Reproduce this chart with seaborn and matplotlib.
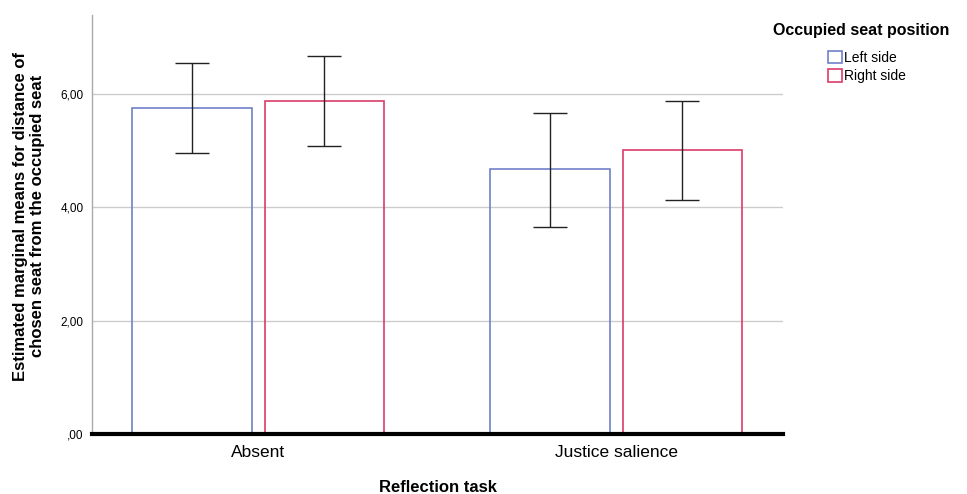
import matplotlib

matplotlib.use("Agg")
import matplotlib.pyplot as plt
import pandas as pd
import seaborn as sns

# Estimated marginal means with 95% CI
tasks = ["Absent", "Justice salience"]
sides = ["Left side", "Right side"]
means_left = [5.75, 4.67]
means_right = [5.87, 5.01]
lower_left = [4.96, 3.65]
upper_left = [6.54, 5.66]
lower_right = [5.08, 4.13]
upper_right = [6.67, 5.87]
yticks = [0, 2, 4, 6]
ytick_labels = [",00", "2,00", "4,00", "6,00"]

BLUE = "#6f82c8"
PINK = "#dc3c68"

df = pd.DataFrame({
    "task": tasks * 2,
    "side": [sides[0]] * 2 + [sides[1]] * 2,
    "mean": means_left + means_right,
    "lo": lower_left + lower_right,
    "hi": upper_left + upper_right,
})

sns.set_theme(style="white")
plt.rcParams["font.family"] = ["Liberation Sans", "DejaVu Sans"]
plt.rcParams.update({"text.color": "black", "xtick.color": "black",
                     "ytick.color": "black", "axes.labelcolor": "black"})

W, H = 967, 494
fig = plt.figure(figsize=(W / 100, H / 100), dpi=100)
ax = fig.add_axes([92 / W, 1 - 434 / H, (783 - 92) / W, (434 - 15) / H])

sns.barplot(data=df, x="task", y="mean", hue="side", order=tasks, hue_order=sides,
            palette=[BLUE, PINK], fill=False, width=0.74, gap=0.1,
            errorbar=None, linewidth=1.2, ax=ax, legend=False)

# error bars, positioned at the drawn bar centres
for bar, (_, row) in zip(ax.patches, df.iterrows()):
    xc = bar.get_x() + bar.get_width() / 2
    ax.errorbar([xc], [row["mean"]],
                yerr=[[row["mean"] - row["lo"]], [row["hi"] - row["mean"]]],
                fmt="none", ecolor="#222222", elinewidth=1.0, capsize=12, capthick=1.0, zorder=3)

ax.set_ylim(0, 7.39)
ax.set_xlim(-0.464, 1.466)
ax.set_yticks(yticks)
ax.set_yticklabels(ytick_labels, fontsize=8.5)
ax.tick_params(axis="y", length=0, pad=6)
ax.tick_params(axis="x", length=0, labelsize=12.5, pad=8)
ax.yaxis.grid(True, color="#cccccc", linewidth=1.0)
ax.set_axisbelow(True)
ax.set_xlabel("")
ax.set_ylabel("")

for s in ["top", "right"]:
    ax.spines[s].set_visible(False)
ax.spines["left"].set_color("#aaaaaa")
ax.spines["left"].set_linewidth(1.0)
ax.spines["bottom"].set_color("black")
ax.spines["bottom"].set_linewidth(3.0)

fig.text(437.5 / W, 1 - 487 / H, "Reflection task", fontsize=12, fontweight="bold",
         ha="center", va="center")
fig.text(29 / W, 1 - 216 / H,
         "Estimated marginal means for distance of\nchosen seat from the occupied seat",
         fontsize=12, fontweight="bold", rotation=90, ha="center", va="center",
         multialignment="center", linespacing=1.2)

# legend
fig.text(861 / W, 1 - 31 / H, "Occupied seat position", fontsize=11.5, fontweight="bold",
         ha="center", va="center")
handles = [plt.Rectangle((0, 0), 1, 1, facecolor="none", edgecolor=c, linewidth=1.2)
           for c in (BLUE, PINK)]
fig.legend(handles, sides, loc="upper left", bbox_to_anchor=(828 / W, 1 - 51 / H),
           frameon=False, fontsize=10, handlelength=1.0, handleheight=1.0,
           handletextpad=0.15, labelspacing=0.3, borderpad=0, borderaxespad=0)

fig.savefig("out.png", dpi=100)
